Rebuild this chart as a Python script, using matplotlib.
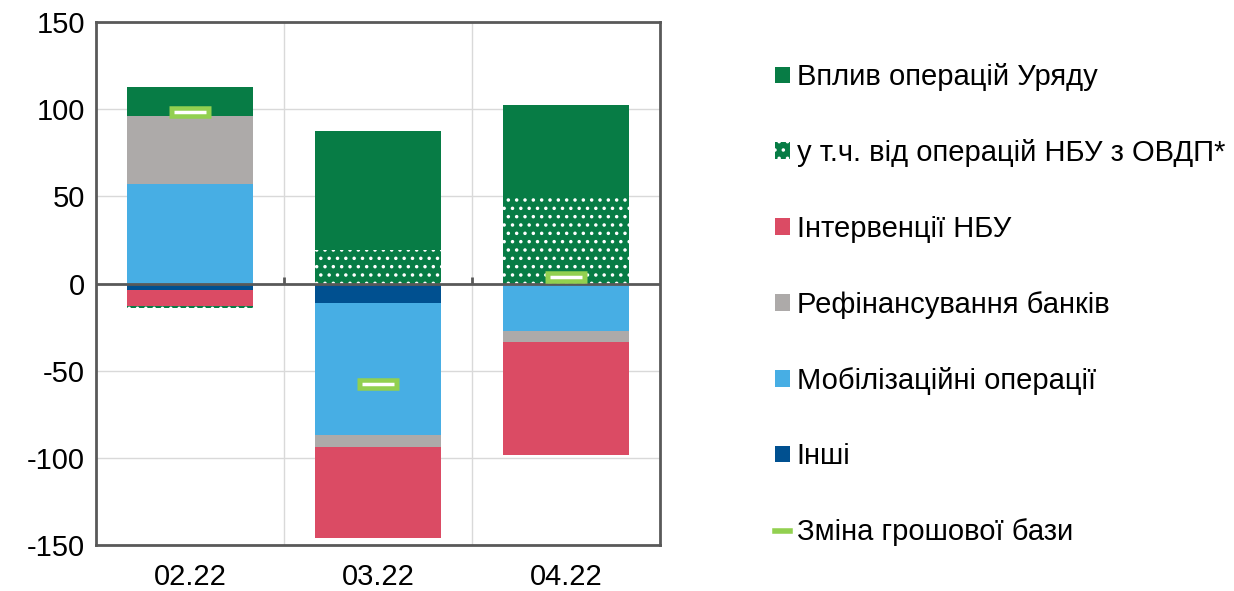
import matplotlib.pyplot as plt
import numpy as np
from matplotlib.patches import Patch
from matplotlib.lines import Line2D

plt.rcParams['font.family'] = ['Liberation Sans', 'DejaVu Sans']
plt.rcParams['axes.unicode_minus'] = False
plt.rcParams['hatch.linewidth'] = 1.3

months = ['02.22', '03.22', '04.22']

# млрд грн, внески до зміни грошової бази
gov_other = [16.8, 68.3, 53.0]      # вплив операцій Уряду (без ОВДП)
gov_ovdp = [-1.0, 19.0, 49.2]       # у т.ч. від операцій НБУ з ОВДП
interventions = [-9.0, -52.2, -65.1]
refinancing = [38.9, -6.9, -6.0]
mobilization = [57.0, -75.3, -27.3]
other = [-4.0, -11.4, 0.0]
base_change = [98.3, -57.4, 4.0]

c_gov = '#077c45'
c_int = '#db4b64'
c_ref = '#adaaa9'
c_mob = '#47aee4'
c_oth = '#005090'
c_base = '#92d050'

fig = plt.figure(figsize=(12.34, 5.91), dpi=100)
ax = fig.add_axes([0.0778, 0.0778, 0.457, 0.885])

x = np.arange(len(months))
w = 0.67
pos = np.zeros(len(x))
neg = np.zeros(len(x))

series = [(other, c_oth, None), (mobilization, c_mob, None), (refinancing, c_ref, None),
          (interventions, c_int, None), (gov_ovdp, c_gov, '..'), (gov_other, c_gov, None)]
for vals, col, hatch in series:
    v = np.array(vals)
    bottom = np.where(v >= 0, pos, neg)
    if hatch:
        ax.bar(x, v, w, bottom=bottom, color=col, edgecolor='white', linewidth=0, hatch=hatch, zorder=2)
    else:
        ax.bar(x, v, w, bottom=bottom, color=col, linewidth=0, zorder=2)
    pos = pos + np.where(v >= 0, v, 0)
    neg = neg + np.where(v < 0, v, 0)

# маркер зміни грошової бази
ax.plot(x, base_change, linestyle='none', marker='_', markersize=30, mew=9, color=c_base, zorder=4)
ax.plot(x, base_change, linestyle='none', marker='_', markersize=23, mew=2.5, color='white', zorder=5)

ax.axhline(0, color='#595959', lw=2, zorder=3)
ax.vlines([0.5, 1.5], 0, 4, color='#595959', lw=2, zorder=3)

ax.set_xlim(-0.5, 2.5)
ax.set_ylim(-150, 150)
ax.set_yticks(np.arange(-150, 151, 50))
ax.set_xticks(x)
ax.set_xticklabels(months)
ax.set_xticks([0.5, 1.5], minor=True)
ax.grid(axis='y', color='#d9d9d9', lw=1, zorder=0)
ax.grid(axis='x', which='minor', color='#d9d9d9', lw=1, zorder=0)
ax.tick_params(axis='both', which='both', length=0, labelsize=21)
ax.tick_params(axis='x', pad=13)
ax.tick_params(axis='y', pad=8)
for s in ax.spines.values():
    s.set_color('#595959')
    s.set_linewidth(2)

handles = [Patch(facecolor=c_gov, linewidth=0),
           Patch(facecolor=c_gov, edgecolor='white', linewidth=0, hatch='..'),
           Patch(facecolor=c_int, linewidth=0),
           Patch(facecolor=c_ref, linewidth=0),
           Patch(facecolor=c_mob, linewidth=0),
           Patch(facecolor=c_oth, linewidth=0),
           Line2D([], [], color=c_base, lw=4)]
labels = ['Вплив операцій Уряду', 'у т.ч. від операцій НБУ з ОВДП*', 'Інтервенції НБУ',
          'Рефінансування банків', 'Мобілізаційні операції', 'Інші', 'Зміна грошової бази']
fig.legend(handles, labels, loc='upper left', bbox_to_anchor=(0.628, 0.893), frameon=False,
           fontsize=21, handlelength=0.5, handleheight=0.5, handletextpad=0.25,
           labelspacing=1.64, borderpad=0, borderaxespad=0)

fig.savefig('out.png', dpi=100)
